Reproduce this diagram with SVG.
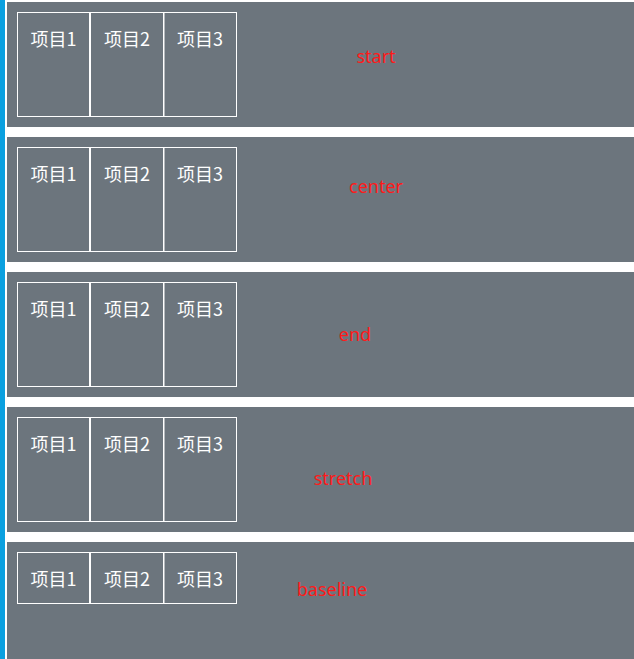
<svg xmlns="http://www.w3.org/2000/svg" width="634" height="659" viewBox="0 0 634 659">
<style>
.panel{fill:#6c757d}
.box{fill:none;stroke:#fff;stroke-width:1}
.it{fill:#fff;font-family:"Noto Sans CJK SC","Microsoft YaHei",sans-serif;font-size:18px;text-anchor:middle}
.lb{fill:#ff1a1a;font-family:"Noto Sans","Open Sans",sans-serif;font-size:18px;text-anchor:middle}
</style>
<rect width="634" height="659" fill="#fff"/>
<rect x="0" y="0" width="5" height="659" fill="#0aa0e0"/>
<g id="row-start">
<rect class="panel" x="7" y="2" width="627" height="125"/>
<g id="start-item1"><rect class="box" x="17.5" y="12.5" width="72" height="104"/><text class="it" x="53.5" y="46">项目1</text></g>
<g id="start-item2"><rect class="box" x="90.5" y="12.5" width="73" height="104"/><text class="it" x="127" y="46">项目2</text></g>
<g id="start-item3"><rect class="box" x="164" y="12.5" width="72.5" height="104"/><text class="it" x="200" y="46">项目3</text></g>
<text class="lb" x="376" y="63">start</text>
</g>
<g id="row-center">
<rect class="panel" x="7" y="137" width="627" height="125"/>
<g id="center-item1"><rect class="box" x="17.5" y="147.5" width="72" height="104"/><text class="it" x="53.5" y="181">项目1</text></g>
<g id="center-item2"><rect class="box" x="90.5" y="147.5" width="73" height="104"/><text class="it" x="127" y="181">项目2</text></g>
<g id="center-item3"><rect class="box" x="164" y="147.5" width="72.5" height="104"/><text class="it" x="200" y="181">项目3</text></g>
<text class="lb" x="376" y="193">center</text>
</g>
<g id="row-end">
<rect class="panel" x="7" y="272" width="627" height="125"/>
<g id="end-item1"><rect class="box" x="17.5" y="282.5" width="72" height="104"/><text class="it" x="53.5" y="316">项目1</text></g>
<g id="end-item2"><rect class="box" x="90.5" y="282.5" width="73" height="104"/><text class="it" x="127" y="316">项目2</text></g>
<g id="end-item3"><rect class="box" x="164" y="282.5" width="72.5" height="104"/><text class="it" x="200" y="316">项目3</text></g>
<text class="lb" x="355" y="341">end</text>
</g>
<g id="row-stretch">
<rect class="panel" x="7" y="407" width="627" height="125"/>
<g id="stretch-item1"><rect class="box" x="17.5" y="417.5" width="72" height="104"/><text class="it" x="53.5" y="451">项目1</text></g>
<g id="stretch-item2"><rect class="box" x="90.5" y="417.5" width="73" height="104"/><text class="it" x="127" y="451">项目2</text></g>
<g id="stretch-item3"><rect class="box" x="164" y="417.5" width="72.5" height="104"/><text class="it" x="200" y="451">项目3</text></g>
<text class="lb" x="343" y="485">stretch</text>
</g>
<g id="row-baseline">
<rect class="panel" x="7" y="542" width="627" height="117"/>
<g id="baseline-item1"><rect class="box" x="17.5" y="552.5" width="72" height="51"/><text class="it" x="53.5" y="586">项目1</text></g>
<g id="baseline-item2"><rect class="box" x="90.5" y="552.5" width="73" height="51"/><text class="it" x="127" y="586">项目2</text></g>
<g id="baseline-item3"><rect class="box" x="164" y="552.5" width="72.5" height="51"/><text class="it" x="200" y="586">项目3</text></g>
<text class="lb" x="332" y="596">baseline</text>
</g>
<g id="connectors"/>
</svg>
